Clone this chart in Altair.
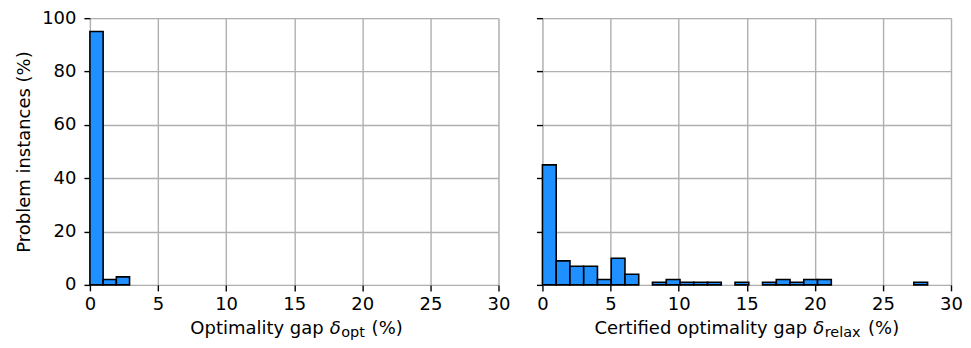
import altair as alt
import pandas as pd

# Left histogram: optimality gap delta_opt (%)
left_counts = [95, 2, 3]
left_bin_width = 0.97

# Right histogram: certified optimality gap delta_relax (%)
right_counts = [45, 9, 7, 7, 2, 10, 4, 0, 1, 2, 1, 1, 1, 0, 1, 0, 1, 2, 1, 2, 2,
                0, 0, 0, 0, 0, 0, 1]
right_bin_width = 1.01

x_ticks = [0, 5, 10, 15, 20, 25, 30]
y_ticks = [0, 20, 40, 60, 80, 100]

y_title = "Problem instances (%)"
# x titles: (main text, symbol, subscript, tail)
left_title = ("Optimality gap", "\u03b4", "opt", "(%)")
right_title = ("Certified optimality gap", "\u03b4", "relax", "(%)")


def make_df(counts, w):
    return pd.DataFrame({
        "start": [i * w for i in range(len(counts))],
        "end": [(i + 1) * w for i in range(len(counts))],
        "count": counts,
    })


FONT = "DejaVu Sans"
FS = 18
SUB_FS = 14.5
W, H = 409, 267
GRID = "#b0b0b0"


def title_layers(parts, delta_left):
    main, sym, sub, tail = parts
    base_y = H + 49
    t1 = alt.Chart().mark_text(
        text=main, font=FONT, fontSize=FS, align="right", baseline="alphabetic", color="black"
    ).encode(x=alt.value(delta_left - 6), y=alt.value(base_y))
    t2 = alt.Chart().mark_text(
        text=sym, font=FONT, fontSize=FS, fontStyle="italic", align="left",
        baseline="alphabetic", color="black"
    ).encode(x=alt.value(delta_left), y=alt.value(base_y))
    t3 = alt.Chart().mark_text(
        text=sub, font=FONT, fontSize=SUB_FS, align="left", baseline="alphabetic", color="black"
    ).encode(x=alt.value(delta_left + 11.5), y=alt.value(base_y + 3))
    sub_w = {"opt": 24, "relax": 37}[sub]
    t4 = alt.Chart().mark_text(
        text=tail, font=FONT, fontSize=FS, align="left", baseline="alphabetic", color="black"
    ).encode(x=alt.value(delta_left + 11.5 + sub_w + 6.5), y=alt.value(base_y))
    return [t1, t2, t3, t4]


def panel(df, parts, delta_left, show_y_labels):
    yaxis = alt.Axis(
        values=y_ticks, grid=True, gridColor=GRID, gridWidth=1.4,
        domain=False, tickColor="black", tickSize=6, tickWidth=1.4,
        labelFont=FONT, labelFontSize=FS, labelColor="black",
        labels=show_y_labels, labelPadding=8,
        title=y_title if show_y_labels else None,
        titleFont=FONT, titleFontSize=FS, titleFontWeight="normal",
        titleColor="black", titlePadding=8,
    )
    xaxis = alt.Axis(
        values=x_ticks, grid=True, gridColor=GRID, gridWidth=1.4,
        domain=False, tickColor="black", tickSize=6, tickWidth=1.4,
        labelFont=FONT, labelFontSize=FS, labelColor="black", labelPadding=5,
        labelFlush=False, title=None,
    )
    bars = alt.Chart(df).transform_filter(
        alt.datum.count > 0
    ).mark_bar(
        color="#1e90ff", stroke="black", strokeWidth=1.6
    ).encode(
        x=alt.X("start:Q", scale=alt.Scale(domain=[0, 30], nice=False), axis=xaxis),
        x2="end:Q",
        y=alt.Y("count:Q", scale=alt.Scale(domain=[0, 100], nice=False), axis=yaxis),
        y2=alt.datum(0),
    )
    return alt.layer(bars, *title_layers(parts, delta_left)).properties(width=W, height=H)


left = panel(make_df(left_counts, left_bin_width), left_title, 240, True)
right = panel(make_df(right_counts, right_bin_width), right_title, 271, False)

chart = alt.hconcat(left, right, spacing=24).configure_view(
    stroke="black", strokeWidth=1.4
).configure(background="white", padding={"left": 7, "top": 0, "right": 0, "bottom": 0})

chart.save("out.html", embed_options={"renderer": "svg", "actions": False})
